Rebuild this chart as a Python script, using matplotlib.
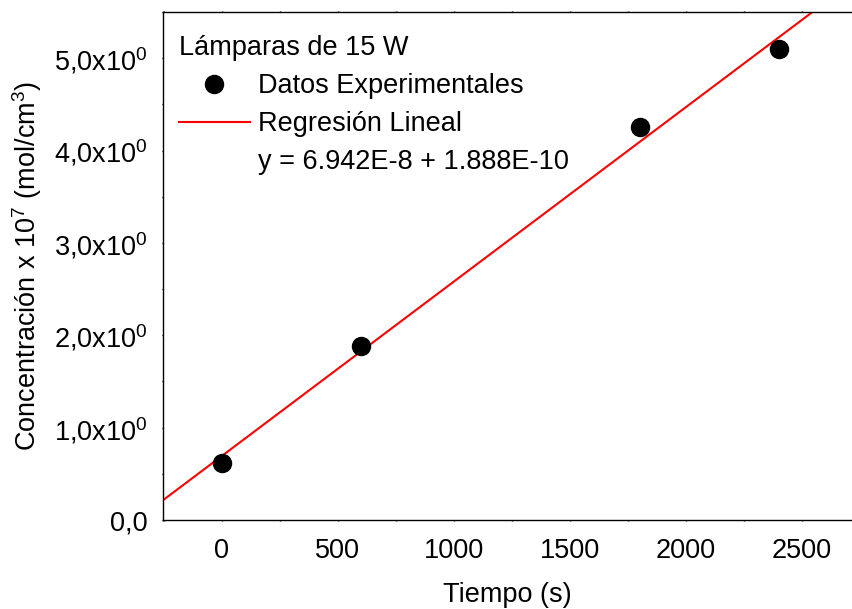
import matplotlib
matplotlib.use('Agg')
import matplotlib.pyplot as plt
from matplotlib.lines import Line2D
from matplotlib.ticker import FixedLocator, MultipleLocator
import numpy as np

plt.rcParams['font.family'] = ['Liberation Sans', 'DejaVu Sans']
plt.rcParams['mathtext.fontset'] = 'custom'
plt.rcParams['mathtext.rm'] = 'Liberation Sans'
plt.rcParams['mathtext.it'] = 'Liberation Sans'
plt.rcParams['mathtext.default'] = 'regular'

# datos experimentales (x 10^7 mol/cm3)
tiempo = [0, 600, 1800, 2400]
concentracion = [0.62, 1.88, 4.25, 5.10]

# regresion lineal (y = a + b*x, en unidades x 10^7)
intercepto = 0.6942
pendiente = 0.001888

x_ticks = [0, 500, 1000, 1500, 2000, 2500]
y_ticks = [0, 1, 2, 3, 4, 5]
y_labels = ['0,0', '1,0x10$^0$', '2,0x10$^0$', '3,0x10$^0$',
            '4,0x10$^0$', '5,0x10$^0$']

fs = 19.5

fig = plt.figure(figsize=(8.52, 6.09), dpi=100)
ax = fig.add_axes([163 / 852, 1 - 520 / 609, 1 - 163 / 852, (520 - 12) / 609])

xlim = (-254, 2716)
xr = np.array(xlim)
ax.plot(xr, intercepto + pendiente * xr, color='red', lw=1.5, zorder=2)
ax.plot(tiempo, concentracion, 'o', color='black', ms=13, zorder=3)

ax.set_xlim(*xlim)
ax.set_ylim(0, 5.5)

ax.xaxis.set_major_locator(FixedLocator(x_ticks))
ax.xaxis.set_minor_locator(MultipleLocator(250))
ax.yaxis.set_major_locator(FixedLocator(y_ticks))
ax.yaxis.set_minor_locator(MultipleLocator(0.5))
ax.set_yticklabels(y_labels)

ax.tick_params(which='major', direction='out', length=7.5, width=1.0,
               labelsize=fs)
ax.tick_params(which='minor', direction='out', length=3.6, width=1.0)
ax.tick_params(axis='x', which='major', pad=12)
ax.tick_params(axis='y', which='major', pad=10)
ax.tick_params(top=True, which='both', length=1, labeltop=False)
ax.spines['right'].set_visible(False)
for s in ['left', 'bottom', 'top']:
    ax.spines[s].set_linewidth(1.0)

ax.set_xlabel('Tiempo (s)', fontsize=fs, labelpad=13)
ax.set_ylabel('Concentración x 10$^7$ (mol/cm$^3$)', fontsize=fs, labelpad=7)

handles = [
    Line2D([], [], ls='none', marker='o', color='black', ms=13),
    Line2D([], [], color='red', lw=1.5),
    Line2D([], [], ls='none', marker=None),
]
labels = ['Datos Experimentales', 'Regresión Lineal', 'y = 6.942E-8 + 1.888E-10']
leg = ax.legend(handles, labels, title='Lámparas de 15 W', loc='upper left',
                bbox_to_anchor=(0.0, 0.987),
                frameon=False, fontsize=fs, title_fontsize=fs,
                handlelength=2.6, handletextpad=0.3, labelspacing=0.45,
                alignment='left', borderaxespad=0.2, borderpad=0.4)

fig.savefig('out.png', dpi=100)
